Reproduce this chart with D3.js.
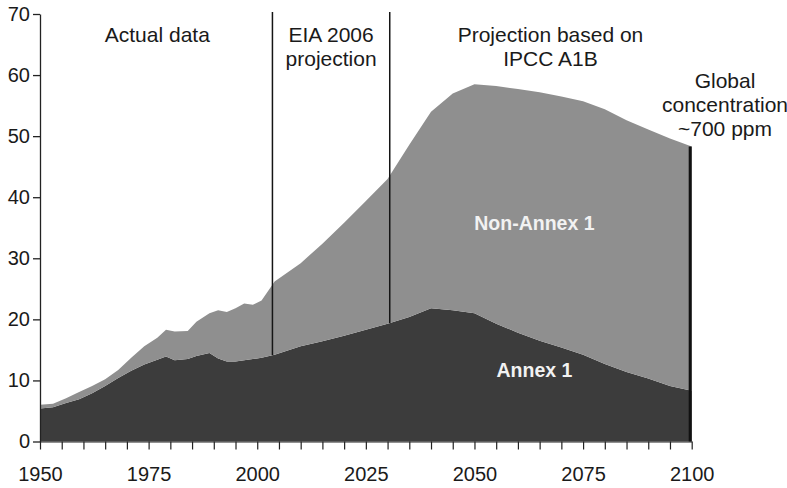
<!DOCTYPE html>
<html><head><meta charset="utf-8">
<script src="https://cdn.jsdelivr.net/npm/d3@7"></script>
<style>
html,body{margin:0;padding:0;background:#fff;overflow:hidden;}
svg{display:block;font-family:"Liberation Sans",Arial,Helvetica,sans-serif;}
</style></head>
<body>
<svg id="chart" width="787" height="488"></svg>
<script>
const years = [1950,1953,1956,1959,1962,1965,1968,1971,1974,1977,1979,1981,1984,1986,1989,1991,1993,1995,1997,1999,2001,2004,2010,2015,2020,2025,2030,2035,2040,2045,2050,2055,2060,2065,2070,2075,2080,2085,2090,2095,2100];
const annex1 = [5.4,5.6,6.3,6.9,7.9,9.1,10.4,11.6,12.6,13.4,13.9,13.3,13.5,14.0,14.5,13.6,13.1,13.1,13.3,13.5,13.7,14.2,15.6,16.4,17.3,18.3,19.3,20.4,21.8,21.5,21.0,19.3,17.8,16.5,15.4,14.2,12.7,11.4,10.3,9.1,8.3];
const nonAnnex1 = [0.6,0.6,0.8,1.2,1.2,1.1,1.3,2.1,3.0,3.6,4.4,4.7,4.6,5.6,6.5,7.9,8.1,8.7,9.3,8.9,9.4,12.0,13.6,16.0,18.5,21.1,23.7,28.2,32.2,35.5,37.5,38.9,39.9,40.7,41.1,41.5,41.7,41.2,40.8,40.5,40.0];
const yTicks = [0,10,20,30,40,50,60,70];
const xMinorTicks = d3.range(1950, 2101, 5);
const xLabelTicks = [1950,1975,2000,2025,2050,2075,2100];
const dividerYears = [2003.5, 2030.5];
const periodLabels = [
  {lines:["Actual data"], year:1977},
  {lines:["EIA 2006","projection"], year:2017},
  {lines:["Projection based on","IPCC A1B"], year:2067.5}
];
const endNote = ["Global","concentration","~700 ppm"];
const seriesNames = ["Annex 1","Non-Annex 1"];

const svg = d3.select("#chart");
const x = d3.scaleLinear().domain([1950,2100]).range([40,691.7]);
const y = d3.scaleLinear().domain([0,70]).range([441.5,14]);

const data = years.map((yr,i)=>({year:yr, annex1:annex1[i], nonAnnex1:nonAnnex1[i]}));
const stack = d3.stack().keys(["annex1","nonAnnex1"]);
const series = stack(data);
const colors = {annex1:"#3c3c3c", nonAnnex1:"#8f8f8f"};

const area = d3.area().x(d=>x(d.data.year)).y0(d=>y(d[0])).y1(d=>y(d[1])).curve(d3.curveLinear);
svg.append("g").selectAll("path").data(series).join("path")
  .attr("d", area).attr("fill", d=>colors[d.key]);

// right edge line at 2100
const lastTotal = annex1[annex1.length-1] + nonAnnex1[nonAnnex1.length-1];
svg.append("line").attr("x1",x(2100)-1.5).attr("x2",x(2100)-1.5)
  .attr("y1",y(lastTotal)).attr("y2",y(0)).attr("stroke","#111").attr("stroke-width",3);

// divider lines
const annexAt = d3.scaleLinear().domain(years).range(annex1);
svg.append("g").selectAll("line").data(dividerYears).join("line")
  .attr("x1",d=>x(d)).attr("x2",d=>x(d))
  .attr("y1",y(70)-2).attr("y2",d=>y(annexAt(d)))
  .attr("stroke","#151515").attr("stroke-width",1.5);

// axes
const yAxis = d3.axisLeft(y).tickValues(yTicks).tickSize(7).tickSizeOuter(0).tickPadding(3);
const gy = svg.append("g").attr("transform","translate(40,0)").call(yAxis);
gy.selectAll("text").attr("font-size",20).attr("fill","#1a1a1a").attr("font-family","Liberation Sans, Arial, sans-serif");
gy.selectAll("line,path").attr("stroke","#222").attr("stroke-width",1.3);

const xAxis = d3.axisBottom(x).tickValues(xMinorTicks).tickSize(8).tickSizeOuter(0).tickPadding(17)
  .tickFormat(d=> xLabelTicks.includes(d) ? String(d) : "");
const gx = svg.append("g").attr("transform","translate(0,441.5)").call(xAxis);
gx.selectAll("text").attr("font-size",20).attr("fill","#1a1a1a").attr("font-family","Liberation Sans, Arial, sans-serif");
gx.selectAll("line,path").attr("stroke","#222").attr("stroke-width",1.2);

// period labels
const pl = svg.append("g").attr("font-size",21).attr("fill","#1a1a1a").attr("text-anchor","middle");
periodLabels.forEach(p=>{
  p.lines.forEach((t,i)=>{
    pl.append("text").attr("x",x(p.year)).attr("y",42+i*24).text(t);
  });
});
const cx = 725;
endNote.forEach((t,i)=>{
  pl.append("text").attr("x",cx).attr("y",88+i*24).text(t);
});

// series labels
const sl = svg.append("g").attr("font-size",19.5).attr("font-weight","bold").attr("fill","#f2f2f2").attr("text-anchor","middle");
sl.append("text").attr("x",x(2063.8)).attr("y",230).text(seriesNames[1]);
sl.append("text").attr("x",x(2063.8)).attr("y",377).text(seriesNames[0]);
</script>
</body></html>
